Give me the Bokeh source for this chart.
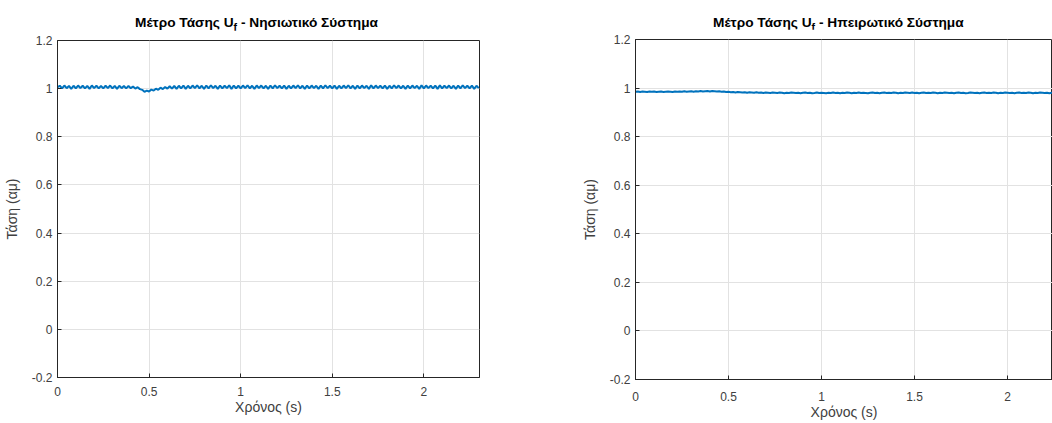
import numpy as np
from bokeh.plotting import figure
from bokeh.models import FixedTicker, Range1d, ColumnDataSource, Div
from bokeh.layouts import row, column
from bokeh.embed import file_html
from bokeh.resources import INLINE

# ---------------- data ----------------
DT = 0.0125  # sample interval (s)

ISLAND_U = [
    1.006, 1.012, 1.001, 1.013, 1.002, 1.011, 0.999, 1.012, 1.001, 1.013,
    1.002, 1.012, 1.001, 1.011, 0.999, 1.013, 1.002, 1.012, 1.001, 1.011,
    1.001, 1.012, 1.002, 1.013, 1.001, 1.011, 0.999, 1.012, 1.002, 1.011,
    1.001, 1.011, 1.002, 1.009, 1.000, 1.006, 0.998, 0.995, 0.987, 0.992,
    0.988, 0.996, 0.992, 1.000, 0.995, 1.004, 0.998, 1.007, 1.000, 1.010,
    1.000, 1.011, 0.999, 1.012, 1.001, 1.013, 0.999, 1.012, 1.001, 1.013,
    1.002, 1.014, 1.001, 1.012, 0.999, 1.013, 1.001, 1.014, 1.002, 1.012,
    0.999, 1.013, 1.001, 1.012, 1.002, 1.014, 0.999, 1.013, 1.001, 1.012,
    1.001, 1.013, 1.002, 1.014, 1.001, 1.012, 0.999, 1.013, 1.002, 1.013,
    1.001, 1.012, 0.999, 1.013, 1.001, 1.014, 1.002, 1.012, 1.001, 1.013,
    0.999, 1.012, 1.001, 1.013, 1.002, 1.014, 1.001, 1.012, 0.999, 1.013,
    1.001, 1.013, 1.002, 1.012, 0.999, 1.013, 1.001, 1.014, 1.002, 1.012,
    1.001, 1.013, 0.999, 1.012, 1.001, 1.013, 1.002, 1.014, 1.001, 1.012,
    0.999, 1.013, 1.001, 1.013, 1.002, 1.012, 0.999, 1.014, 1.001, 1.013,
    1.002, 1.012, 1.001, 1.013, 0.999, 1.012, 1.001, 1.014, 1.002, 1.013,
    1.001, 1.012, 0.999, 1.013, 1.001, 1.013, 1.002, 1.012, 0.999, 1.014,
    1.001, 1.013, 1.002, 1.012, 1.001, 1.013, 0.999, 1.014, 1.001, 1.012,
    1.002, 1.013, 1.001, 1.012, 0.999, 1.013, 1.001, 1.014, 1.002, 1.012,
    1.001, 1.013, 0.999, 1.012, 1.002,
]

MAINLAND_U = [
    0.985, 0.986, 0.984, 0.986, 0.985, 0.984, 0.986, 0.985, 0.986, 0.984,
    0.985, 0.986, 0.984, 0.985, 0.986, 0.985, 0.984, 0.986, 0.985, 0.986,
    0.985, 0.987, 0.985, 0.986, 0.987, 0.985, 0.987, 0.986, 0.988, 0.986,
    0.987, 0.988, 0.986, 0.988, 0.987, 0.986, 0.987, 0.985, 0.986, 0.984,
    0.985, 0.983, 0.984, 0.982, 0.984, 0.983, 0.982, 0.983, 0.981, 0.983,
    0.982, 0.981, 0.983, 0.981, 0.982, 0.980, 0.982, 0.981, 0.980, 0.982,
    0.981, 0.980, 0.982, 0.981, 0.979, 0.981, 0.980, 0.982, 0.981, 0.980,
    0.981, 0.979, 0.981, 0.982, 0.980, 0.981, 0.979, 0.980, 0.982, 0.980,
    0.981, 0.980, 0.979, 0.981, 0.980, 0.982, 0.980, 0.981, 0.979, 0.981,
    0.980, 0.982, 0.981, 0.979, 0.981, 0.980, 0.982, 0.980, 0.981, 0.980,
    0.979, 0.981, 0.982, 0.980, 0.981, 0.979, 0.981, 0.982, 0.980, 0.981,
    0.980, 0.982, 0.981, 0.979, 0.981, 0.980, 0.982, 0.981, 0.980, 0.982,
    0.980, 0.981, 0.979, 0.981, 0.982, 0.980, 0.981, 0.980, 0.982, 0.981,
    0.979, 0.981, 0.980, 0.982, 0.981, 0.980, 0.981, 0.979, 0.981, 0.982,
    0.980, 0.981, 0.979, 0.980, 0.982, 0.981, 0.980, 0.981, 0.979, 0.981,
    0.982, 0.980, 0.981, 0.980, 0.982, 0.981, 0.979, 0.981, 0.980, 0.982,
    0.981, 0.980, 0.981, 0.979, 0.981, 0.982, 0.980, 0.981, 0.980, 0.982,
    0.981, 0.979, 0.981, 0.980, 0.982, 0.981, 0.980, 0.981, 0.979, 0.981,
    0.980, 0.982, 0.981, 0.980, 0.981,
]

X_TICKS = [0, 0.5, 1, 1.5, 2]
X_TICK_LABELS = ["0", "0.5", "1", "1.5", "2"]
Y_TICKS = [-0.2, 0, 0.2, 0.4, 0.6, 0.8, 1, 1.2]
Y_TICK_LABELS = ["-0.2", "0", "0.2", "0.4", "0.6", "0.8", "1", "1.2"]

TITLE_MAIN = "Μέτρο Τάσης U"
TITLE_SUB = "f"
TITLE_LEFT_REST = " - Νησιωτικό Σύστημα"
TITLE_RIGHT_REST = " - Ηπειρωτικό Σύστημα"
X_LABEL = "Χρόνος (s)"
Y_LABEL = "Τάση (αμ)"

FONT = "Liberation Sans"
LINE_COLOR = "#0072BD"
AXIS_COLOR = "#262626"
LABEL_COLOR = "#404040"
GRID_COLOR = "#e2e2e2"


def style_axis(ax, ticks, labels, axis_label, standoff, label_standoff):
    ax.ticker = FixedTicker(ticks=ticks)
    ax.major_label_overrides = {t: l for t, l in zip(ticks, labels)}
    ax.axis_line_color = AXIS_COLOR
    ax.axis_line_width = 1
    ax.major_tick_line_color = AXIS_COLOR
    ax.major_tick_in = 4
    ax.major_tick_out = 0
    ax.minor_tick_line_color = None
    ax.major_label_text_font = FONT
    ax.major_label_text_color = LABEL_COLOR
    ax.major_label_text_font_size = "12px"
    ax.major_label_standoff = standoff
    ax.axis_label = axis_label
    ax.axis_label_text_font = FONT
    ax.axis_label_text_font_size = "14px"
    ax.axis_label_text_font_style = "normal"
    ax.axis_label_text_color = LABEL_COLOR
    ax.axis_label_standoff = label_standoff


def make_title(rest, pad_left, width, height, pad_top):
    html = (
        f'<div style="padding-left:{pad_left}px; padding-top:{pad_top}px; '
        f"font-family:'{FONT}'; font-weight:bold; font-size:13.7px; "
        f'line-height:15px; color:#000; white-space:nowrap;">'
        f'{TITLE_MAIN}<sub style="font-size:10.5px; line-height:0; '
        f'vertical-align:-4px;">{TITLE_SUB}</sub>{rest}</div>'
    )
    return Div(text=html, width=width, height=height, margin=0)


def make_panel(values, x_end, width, height, border_left, border_right,
               border_bottom, y_label_standoff, x_standoff, x_label_standoff):
    t = np.arange(len(values)) * DT
    src = ColumnDataSource(dict(t=t, u=values))
    p = figure(width=width, height=height, output_backend="svg",
               toolbar_location=None, x_range=Range1d(0, x_end),
               y_range=Range1d(-0.2, 1.2), min_border_left=border_left,
               min_border_right=border_right, min_border_top=10,
               min_border_bottom=border_bottom, margin=0)
    p.outline_line_color = AXIS_COLOR
    p.outline_line_width = 1
    p.background_fill_color = "white"
    p.border_fill_color = "white"

    style_axis(p.xaxis[0], X_TICKS, X_TICK_LABELS, X_LABEL,
               x_standoff, x_label_standoff)
    style_axis(p.yaxis[0], Y_TICKS, Y_TICK_LABELS, Y_LABEL,
               5, y_label_standoff)

    p.xgrid.ticker = FixedTicker(ticks=X_TICKS)
    p.ygrid.ticker = FixedTicker(ticks=Y_TICKS)
    for g in (p.xgrid, p.ygrid):
        g.grid_line_color = GRID_COLOR
        g.grid_line_width = 1

    p.line("t", "u", source=src, line_color=LINE_COLOR, line_width=2)
    return p


p1 = make_panel(ISLAND_U, 2.304, 530, 392, 57, 51, 45, 9, 9, 0)
p2 = make_panel(MAINLAND_U, 2.242, 522, 393, 105, 0, 42, 9, 12, 0)
t1 = make_title(TITLE_LEFT_REST, 135, 530, 30, 15)
t2 = make_title(TITLE_RIGHT_REST, 183, 522, 29, 15)

layout = row(column(t1, p1, spacing=0, margin=0),
             column(t2, p2, spacing=0, margin=0), spacing=0, margin=0)
open("out.html", "w").write(file_html(layout, INLINE))
